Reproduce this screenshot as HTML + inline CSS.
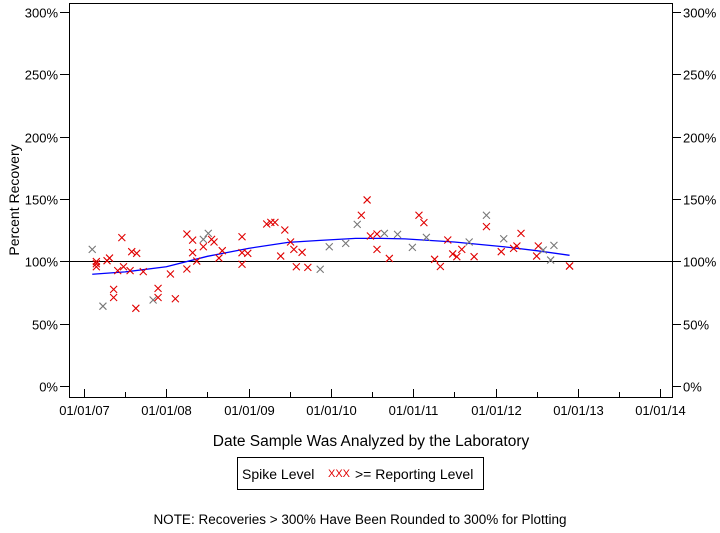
<!DOCTYPE html>
<html><head><meta charset="utf-8"><style>
body{margin:0;background:#fff;}
svg text{font-family:"Liberation Sans",Arial,sans-serif;}
</style></head><body>
<svg width="720" height="528" viewBox="0 0 720 528">
<g id="axes"></g>
<g id="marks"></g>
<text x="371" y="446" font-size="15.5" text-anchor="middle">Date Sample Was Analyzed by the Laboratory</text>
<text transform="translate(19,200) rotate(-90)" font-size="14" text-anchor="middle">Percent Recovery</text>
<g>
<rect x="237.5" y="457.5" width="246" height="32" fill="none" stroke="#000"/>
<text x="242" y="479" font-size="14">Spike Level</text>
<text x="328" y="477" font-size="11" fill="#e00000">XXX</text>
<text x="355" y="479" font-size="14">&gt;= Reporting Level</text>
</g>
<text x="360" y="524" font-size="13.5" text-anchor="middle">NOTE: Recoveries &gt; 300% Have Been Rounded to 300% for Plotting</text>
</svg>
<script>
const xTickLabels=["01/01/07","01/01/08","01/01/09","01/01/10","01/01/11","01/01/12","01/01/13","01/01/14"];
const yTicks=[0,50,100,150,200,250,300];
const dates=[2007.10,2007.15,2007.15,2007.15,2007.23,2007.28,2007.31,2007.36,2007.36,2007.41,2007.46,2007.48,2007.56,2007.58,2007.64,2007.63,2007.72,2007.84,2007.90,2007.90,2008.05,2008.11,2008.25,2008.32,2008.32,2008.25,2008.37,2008.45,2008.45,2008.51,2008.55,2008.58,2008.64,2008.68,2008.92,2008.92,2008.92,2008.99,2009.22,2009.27,2009.32,2009.44,2009.51,2009.55,2009.65,2009.39,2009.58,2009.72,2009.87,2009.98,2010.18,2010.32,2010.37,2010.44,2010.48,2010.56,2010.56,2010.65,2010.71,2010.81,2010.99,2011.07,2011.13,2011.16,2011.26,2011.33,2011.42,2011.48,2011.53,2011.59,2011.68,2011.74,2011.89,2011.89,2012.07,2012.10,2012.22,2012.26,2012.31,2012.50,2012.52,2012.58,2012.67,2012.71,2012.90,2012.90];
const recoveries=[109.6,99.8,95.6,98,64,100.5,102.6,77.5,71,92.5,119,95.6,92.5,107.7,106.4,62.3,91.7,69,71,78.3,89.8,70,121.9,117,106.9,93.8,100.2,117.6,111.7,122.4,117.6,115.5,102.6,108.5,119.7,106.9,97.6,106.4,129.9,131.2,131.2,125.1,115.5,109.6,107.2,104.2,95.6,95.1,93.6,111.7,114.4,129.6,136.9,149.2,120.3,121.9,109.6,122.4,102.3,121.6,111.2,136.9,131,119.2,101.6,95.8,117.1,105.9,103.7,109.6,115.5,103.7,136.9,127.8,107.7,118.1,110.4,112.3,122.4,104.2,112.3,109.1,101,112.8,96.2,96.2];
const grayFlags=[1,0,0,0,1,0,0,0,0,0,0,0,0,0,0,0,0,1,0,0,0,0,0,0,0,0,0,1,0,1,0,0,0,0,0,0,0,0,0,0,0,0,0,0,0,0,0,0,1,1,1,1,0,0,0,0,0,1,0,1,1,0,0,1,0,0,0,0,0,0,1,0,1,0,0,1,0,0,0,0,0,1,1,1,0,0];
const fitDates=[2007.10,2007.5,2008.0,2008.5,2009.0,2009.48,2009.87,2010.3,2010.6,2010.9,2011.5,2012.1,2012.5,2012.9];
const fitValues=[89.6,91.5,95.6,104,110.4,115.2,116.8,118.4,118.4,118,115.5,111.7,108.5,104.8];
const NS="http://www.w3.org/2000/svg";
const L=69,R=672,T=3,B=397;
const X0=84,YW=82.3;
function xs(d){return X0+(d-2007)*YW;}
function ys(v){return 386-v*1.247;}
function mk(tag,at,parent){const e=document.createElementNS(NS,tag);for(const k in at)e.setAttribute(k,at[k]);parent.appendChild(e);return e;}
const ax=document.getElementById('axes'),mg=document.getElementById('marks');
const frame=mk('rect',{x:L+.5,y:T+.5,width:R-L,height:B-T,fill:'none',stroke:'#000'},ax);


yTicks.forEach(v=>{const y=Math.round(ys(v))+.5;
 const t1=mk('line',{x1:L-9,x2:L,y1:y,y2:y,stroke:'#000'},ax);
 
 
 const t2=mk('line',{x1:R,x2:R+9,y1:y,y2:y,stroke:'#000'},ax);
 
 
 const a=mk('text',{x:L-11,y:y+5,'font-size':13,'text-anchor':'end'},ax);a.textContent=v+'%';
 
 
 const b=mk('text',{x:R+11,y:y+5,'font-size':13},ax);b.textContent=v+'%';
 
 
});
xTickLabels.forEach((s,i)=>{const x=Math.round(xs(2007+i))+.5;
 const t=mk('line',{x1:x,x2:x,y1:B-8,y2:B,stroke:'#000'},ax);
 
 
 if(i<xTickLabels.length-1){const h=Math.round(xs(2007.5+i))+.5;
  const m=mk('line',{x1:h,x2:h,y1:B-5,y2:B,stroke:'#000'},ax);
  
  }
 const lb=mk('text',{x:x,y:415,'font-size':13,'text-anchor':'middle'},ax);lb.textContent=s;
 
 
});
const ref=mk('line',{x1:L,x2:R,y1:Math.round(ys(100))+.5,y2:Math.round(ys(100))+.5,stroke:'#000'},mg);


const fit=mk('polyline',{points:fitDates.map((d,i)=>xs(d)+','+ys(fitValues[i])).join(' '),fill:'none',stroke:'#0000ff','stroke-width':1.3},mg);


dates.forEach((d,i)=>{const x=xs(d),y=ys(recoveries[i]),s=3.5;
 const c=grayFlags[i]?'#777':'#e00000';
 const p=mk('path',{d:`M${x-s},${y-s}L${x+s},${y+s}M${x-s},${y+s}L${x+s},${y-s}`,stroke:c,'stroke-width':1.1,fill:'none'},mg);
 
 
});
</script>
</body></html>
